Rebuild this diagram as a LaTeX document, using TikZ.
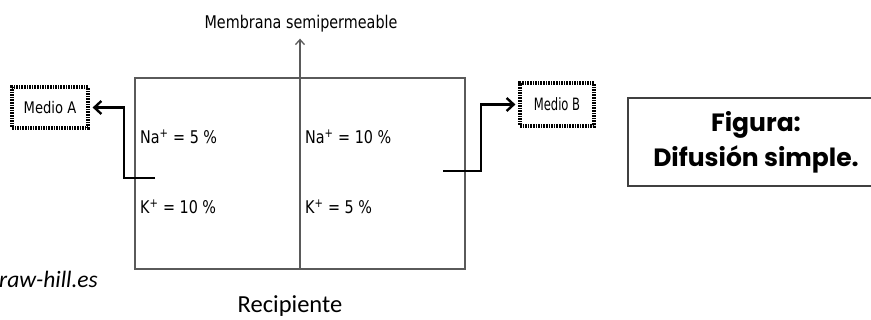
\documentclass[tikz,border=0pt]{standalone}
\usepackage{fontspec}
\usetikzlibrary{arrows.meta,positioning}
\newfontfamily\lblfont[FakeStretch=0.82]{DejaVu Sans}
\newfontfamily\narrowfont[FakeStretch=0.68]{DejaVu Sans}
\newfontfamily\capfont{Carlito}
\newfontfamily\titlefont{Poppins}
\definecolor{lineGray}{HTML}{5A5A5A}

\begin{document}
\begin{tikzpicture}[x=1pt, y=-1pt,
    lbl/.style={font=\lblfont\fontsize{17.5}{20}\selectfont, inner sep=0pt},
    medbox/.style={draw=black, line width=3.2pt, dash pattern=on 1.6pt off 1pt,
        minimum width=76pt, minimum height=41pt, inner sep=0pt,
        font=\lblfont\fontsize{16}{18}\selectfont},
    flow/.style={-{Straight Barb[length=7pt,width=13pt]}, line width=2.4pt, shorten >=3pt},
]
\clip (0,0) rectangle (871,320);

% Recipient split by the membrane
\node[draw=lineGray, line width=1.4pt, minimum width=330pt, minimum height=191pt] (rec) at (300,173.5) {};
\node[lbl] (memb) at (301,24) {Membrana semipermeable};
\draw[lineGray, line width=1.3pt, -{Straight Barb[length=5pt,width=9pt]}]
    (rec.south) -- ([yshift=-6pt]rec.south |- memb.south);

% Concentrations
\node[lbl, anchor=west] (naA) at (140,137) {Na\textsuperscript{+} = 5 \%};
\node[lbl, anchor=west] (kA) at (140,207) {K\textsuperscript{+} = 10 \%};
\node[lbl, anchor=west] (naB) at (305,137) {Na\textsuperscript{+} = 10 \%};
\node[lbl, anchor=west] (kB) at (305,207) {K\textsuperscript{+} = 5 \%};

% Outer media
\node[medbox] (medA) at (50,107.5) {Medio A};
\node[medbox, minimum width=74pt, minimum height=43pt,
    font=\narrowfont\fontsize{17}{19}\selectfont] (medB) at (557,104.5) {Medio B};

\coordinate (aStart) at (155,178);
\coordinate (bStart) at (443,171);
\draw[flow] (aStart) -- ++(-31,0) |- (medA.east);
\draw[flow] (bStart) -- ++(38,0) |- (medB.west);

% Captions
\node[font=\capfont\fontsize{24.5}{28}\selectfont] (recLbl) at (290,306) {Recipiente};
\node[font=\capfont\itshape\fontsize{23.5}{26}\selectfont, anchor=west, inner sep=0pt] (src) at (-1,279) {raw-hill.es};

\node[draw=black!75, line width=1.3pt, minimum width=256pt, minimum height=88pt, align=center,
    font=\titlefont\bfseries\fontsize{25}{35}\selectfont] (fig) at (756,142) {Figura:\\Difusión simple.};

\end{tikzpicture}
\end{document}
